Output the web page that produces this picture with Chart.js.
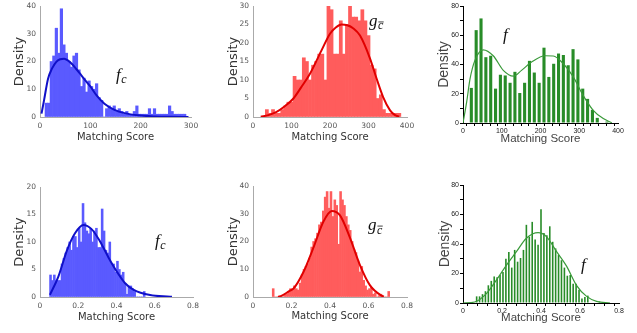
<!DOCTYPE html>
<html>
<head>
<meta charset="utf-8">
<script src="https://cdn.jsdelivr.net/npm/chart.js"></script>
<style>
  html, body { margin: 0; padding: 0; background: #fff; }
  body { position: relative; width: 637px; height: 333px; overflow: hidden; }
  canvas { position: absolute; }
</style>
</head>
<body>
<canvas id="p1" width="210" height="160" style="left:0;top:-8px"></canvas>
<canvas id="p2" width="210" height="160" style="left:210px;top:-8px"></canvas>
<canvas id="p3" width="217" height="160" style="left:420px;top:-8px"></canvas>
<canvas id="p4" width="210" height="168" style="left:0;top:165px"></canvas>
<canvas id="p5" width="210" height="168" style="left:210px;top:165px"></canvas>
<canvas id="p6" width="217" height="168" style="left:420px;top:165px"></canvas>
<script>
// ---- top row: raw matching scores ----
const fcBins = [12.5, 17.5, 22.5, 27.5, 32.5, 37.5, 42.5, 47.5, 52.5, 57.5, 62.5, 67.5, 72.5, 77.5,
  82.5, 87.5, 92.5, 97.5, 102.5, 107.5, 112.5, 117.5, 122.5, 127.5, 132.5, 137.5, 142.5, 147.5,
  152.5, 157.5, 162.5, 167.5, 172.5, 177.5, 182.5, 187.5, 192.5, 197.5, 202.5, 207.5, 212.5, 217.5,
  222.5, 227.5, 232.5, 237.5, 242.5, 247.5, 252.5, 257.5, 262.5, 267.5, 272.5, 277.5, 282.5, 287.5];
const fcDensity = [5, 5, 20, 22, 32, 23, 39, 26, 23, 20, 18, 22, 23, 17,
  11, 14, 9, 13, 11, 10, 12, 7, 6, 0, 3, 4, 3, 4,
  2, 3, 2, 1, 2, 1, 1, 2, 4, 1, 1, 1, 1, 3,
  1, 3, 1, 1, 1, 1, 1, 4, 2, 1, 1, 1, 1, 1];
const fcCurveX = [3, 8, 16, 24, 32, 40, 48, 56, 64, 72, 80, 90, 100, 112, 128, 148, 168, 195, 228, 260, 295];
const fcCurveY = [1.2, 6, 13.8, 17.5, 19.8, 20.8, 21, 20.3, 19, 17.3, 15.5, 13.2, 11, 7.9, 4.8, 2.6, 1.4, 0.6, 0.2, 0.05, 0];

const gcBins = [36, 44, 52, 60, 68, 76, 84, 92, 100, 108, 116, 124, 132, 140, 148, 156, 164, 172,
  180, 188, 196, 204, 212, 220, 228, 236, 244, 252, 260, 268, 276, 284, 292, 300, 308, 316,
  324, 332, 340, 348, 356, 364, 372, 380];
const gcDensity = [2, 1, 2, 1, 1, 2, 3, 4, 4, 11, 10, 10, 16, 15, 10, 14, 15, 17,
  17, 10, 30, 29, 17, 17, 26, 17, 25, 30, 27, 27, 26, 29, 26, 22, 14, 13,
  5, 6, 2, 1, 1, 1, 1, 1];
const gcCurveX = [20, 40, 60, 80, 105, 125, 148, 178, 200, 215, 230, 245, 260, 278, 304, 321, 338, 356, 369, 380];
const gcCurveY = [0.1, 0.5, 1.3, 2.7, 5, 8, 11.7, 18, 22.5, 24.2, 25, 24.8, 24, 22, 15.8, 10.4, 5.4, 1.8, 0.5, 0.1];

const fBins = [21.5, 34, 46.5, 59, 71.5, 84, 96.5, 109, 121.5, 134, 146.5, 159, 171.5, 184, 196.5,
  209, 221.5, 234, 246.5, 259, 271.5, 284, 296.5, 309, 321.5, 334, 346.5, 359, 371.5];
const fDensity = [24, 63.5, 71.5, 45, 46, 23.5, 33, 32.5, 27.5, 35, 20.5, 27.5, 42.5, 34.5, 27.5,
  51.5, 31.5, 40.5, 47.5, 46.5, 39.5, 50.5, 43.5, 23.5, 16.5, 9, 3.5, 0, 1];
const fCurveX = [0, 9.5, 18, 31, 52, 78, 104, 130, 151, 177, 212, 233, 259, 285, 310, 336, 362, 384];
const fCurveY = [0, 14.4, 30, 43, 50, 46, 36, 32, 36, 41.7, 46, 45.8, 40.5, 31.4, 18.9, 8.7, 3, 0.2];

// ---- bottom row: normalised matching scores ----
const fcNormBins = [0.055, 0.065, 0.075, 0.085, 0.095, 0.105, 0.115, 0.125, 0.135, 0.145,
  0.155, 0.165, 0.175, 0.185, 0.195, 0.205, 0.215, 0.225, 0.235, 0.245,
  0.255, 0.265, 0.275, 0.285, 0.295, 0.305, 0.315, 0.325, 0.335, 0.345,
  0.355, 0.365, 0.375, 0.385, 0.395, 0.405, 0.415, 0.425, 0.435, 0.445,
  0.455, 0.465, 0.475, 0.485, 0.495, 0.505, 0.515, 0.525, 0.535, 0.545];
const fcNormDensity = [4, 3, 4, 3, 3, 3, 6, 7, 8, 9,
  10, 8.5, 11, 11, 9, 12.5, 10, 17, 13.5, 12,
  11.5, 12.5, 10, 12, 12.5, 9, 9, 16, 12, 8.5,
  8, 10, 6, 6, 4.5, 6.5, 5, 4, 4.5, 2.5,
  0.5, 2, 2, 1.5, 1, 0, 0, 0, 0, 1];
const fcNormCurveX = [0.052, 0.096, 0.14, 0.183, 0.227, 0.271, 0.314, 0.358, 0.402, 0.445, 0.49, 0.576, 0.664, 0.69];
const fcNormCurveY = [0.4, 3.7, 8.4, 11.6, 13.1, 12.3, 10.1, 7.2, 4.6, 2.5, 1.3, 0.35, 0.08, 0.05];

const gcNormBins = [0.105, 0.115, 0.125, 0.135, 0.145, 0.155, 0.165, 0.175, 0.185, 0.195,
  0.205, 0.215, 0.225, 0.235, 0.245, 0.255, 0.265, 0.275, 0.285, 0.295,
  0.305, 0.315, 0.325, 0.335, 0.345, 0.355, 0.365, 0.375, 0.385, 0.395,
  0.405, 0.415, 0.425, 0.435, 0.445, 0.455, 0.465, 0.475, 0.485, 0.495,
  0.505, 0.515, 0.525, 0.535, 0.545, 0.555, 0.565, 0.575, 0.585, 0.595,
  0.605, 0.615, 0.625, 0.635, 0.645, 0.655, 0.665, 0.675, 0.685, 0.695, 0.705];
const gcNormDensity = [3, 0, 0, 0, 0, 0, 1, 1, 2, 3,
  3, 4, 3, 2.5, 5, 8, 10, 11, 12, 14,
  18, 20, 21, 23, 26, 27, 31, 36, 38, 32,
  38, 29, 35, 33, 19, 38, 35, 33, 29, 26,
  24, 20, 17, 16, 13, 9, 11, 6, 4, 2.5,
  3, 3.5, 1, 1.5, 0, 0.5, 1, 0, 0, 0, 2];
const gcNormCurveX = [0.13, 0.15, 0.19, 0.21, 0.262, 0.314, 0.366, 0.409, 0.452, 0.503, 0.555, 0.607, 0.667, 0.68];
const gcNormCurveY = [0, 0.5, 2.2, 3, 9, 17.8, 27.2, 31, 29.4, 21.5, 11.6, 4.3, 0.5, 0.2];

const fNormBins = [0.07, 0.085, 0.1, 0.115, 0.13, 0.145, 0.16, 0.175, 0.19, 0.205, 0.22,
  0.235, 0.25, 0.265, 0.28, 0.295, 0.31, 0.325, 0.34, 0.355, 0.37, 0.385,
  0.4, 0.415, 0.43, 0.445, 0.46, 0.475, 0.49, 0.505, 0.52, 0.535, 0.55,
  0.565, 0.58, 0.595, 0.61, 0.625, 0.64, 0.655, 0.67, 0.685, 0.7];
const fNormDensity = [4.5, 4.5, 6, 8, 12, 15, 18, 17.5, 19, 21, 30,
  34.5, 24, 36, 28, 30.5, 36, 53, 45, 55, 43, 39.5,
  63.5, 47.5, 46, 52, 41.5, 37, 32.5, 29, 24, 18.5, 19,
  13, 13, 9, 3, 4, 5, 0, 0, 0, 1];
const fNormCurveX = [0, 0.06, 0.12, 0.171, 0.223, 0.274, 0.325, 0.385, 0.428, 0.48, 0.531, 0.582, 0.634, 0.685, 0.754];
const fNormCurveY = [0, 0.7, 6.4, 15.5, 25.7, 34.8, 43.9, 47.7, 45, 34.8, 25, 12, 4.5, 1.1, 0];

const pts = (xs, ys) => xs.map((x, i) => ({ x: x, y: ys[i] }));

// italic math label (f, f_c, g_c-bar) anchored in data coordinates
const mathLabel = {
  id: 'mathLabel',
  afterDatasetsDraw(chart, args, opts) {
    if (!opts || !opts.main) return;
    const ctx = chart.ctx;
    const px = chart.scales.x.getPixelForValue(opts.x);
    const py = chart.scales.y.getPixelForValue(opts.y);
    ctx.save();
    ctx.fillStyle = '#111';
    ctx.strokeStyle = '#111';
    ctx.textBaseline = 'alphabetic';
    ctx.font = 'italic ' + opts.size + 'px "Liberation Serif"';
    const w = ctx.measureText(opts.main).width;
    ctx.fillText(opts.main, px, py);
    if (opts.sub) {
      const ss = Math.round(opts.size * 0.72);
      ctx.font = 'italic ' + ss + 'px "Liberation Serif"';
      const sx = px + w + 0.5, sy = py + opts.size * 0.2;
      ctx.fillText(opts.sub, sx, sy);
      if (opts.bar) {
        const sw = ctx.measureText(opts.sub).width;
        ctx.lineWidth = 0.8;
        ctx.beginPath();
        ctx.moveTo(sx + 0.5, sy - ss * 0.62);
        ctx.lineTo(sx + sw + 0.5, sy - ss * 0.62);
        ctx.stroke();
      }
    }
    ctx.restore();
  }
};

const fmt = v => String(+v.toFixed(2));

function makePanel(id, o) {
  const mma = o.style === 'mma';
  const tickFont = mma ? { family: 'DejaVu Sans', size: 7.5 } : { family: 'Liberation Sans', size: 7 };
  const tickColor = mma ? '#555' : '#222';
  const titleColor = mma ? '#333' : '#444';
  return new Chart(document.getElementById(id), {
    type: 'bar',
    data: {
      datasets: [
        {
          type: 'line',
          data: pts(o.curveX, o.curveY),
          borderColor: o.lineColor,
          borderWidth: o.lineWidth,
          pointRadius: 0,
          tension: 0.4,
          cubicInterpolationMode: 'monotone',
          order: 0
        },
        {
          type: 'bar',
          data: pts(o.bins, o.values),
          backgroundColor: o.barColor,
          borderWidth: 0,
          barPercentage: o.barPct,
          categoryPercentage: 1,
          order: 1
        }
      ]
    },
    options: {
      responsive: false,
      animation: false,
      layout: { padding: o.pad },
      plugins: {
        legend: { display: false },
        tooltip: { enabled: false },
        mathLabel: o.label
      },
      scales: {
        x: {
          type: 'linear',
          min: o.xMin, max: o.xMax,
          offset: false,
          grid: { display: true, drawOnChartArea: false, color: mma ? 'rgba(0,0,0,0)' : '#000', tickLength: mma ? 2 : 3 },
          border: mma ? { color: '#aaa', dash: [1, 2] } : { color: '#000' },
          ticks: {
            stepSize: o.xStep,
            autoSkip: false,
            maxRotation: 0,
            padding: mma ? 3 : 1,
            color: tickColor,
            font: tickFont,
            callback: v => (Math.abs(v / o.xLabelStep - Math.round(v / o.xLabelStep)) < 1e-6 ? fmt(v) : '')
          },
          title: { display: true, text: 'Matching Score', color: titleColor,
            font: mma ? { family: 'DejaVu Sans', size: 10 } : { family: 'Liberation Sans', size: 11.5 } },
          afterFit: s => { s.height = o.xh; }
        },
        y: {
          min: 0, max: o.yMax,
          grid: { display: true, drawOnChartArea: false, color: mma ? 'rgba(0,0,0,0)' : '#000', tickLength: mma ? 2 : 3 },
          border: mma ? { color: '#aaa' } : { color: '#000' },
          ticks: {
            stepSize: o.yStep,
            autoSkip: false,
            padding: mma ? 2 : 1,
            color: tickColor,
            font: tickFont,
            callback: v => (Math.abs(v / o.yLabelStep - Math.round(v / o.yLabelStep)) < 1e-6 ? fmt(v) : '')
          },
          title: { display: true, text: 'Density', color: titleColor,
            font: mma ? { family: 'DejaVu Sans', size: 13 } : { family: 'Liberation Sans', size: 14 } },
          afterFit: s => { s.width = o.yw; }
        }
      }
    },
    plugins: [mathLabel]
  });
}

const blue = { style: 'mma', barColor: '#5a5aff', lineColor: '#1010c8', lineWidth: 2, barPct: 1 };
const red = { style: 'mma', barColor: '#ff5c5c', lineColor: '#e00000', lineWidth: 2, barPct: 1 };
const green = { style: 'plain', barColor: '#288c28', lineColor: '#3a9a3a', lineWidth: 1.2 };

makePanel('p1', Object.assign({}, blue, {
  bins: fcBins, values: fcDensity, curveX: fcCurveX, curveY: fcCurveY,
  xMin: 0, xMax: 300, xStep: 100, xLabelStep: 100, yMax: 40, yStep: 10, yLabelStep: 10,
  pad: { left: 8, right: 19, top: 14, bottom: 5 }, yw: 32, xh: 30,
  label: { main: 'f', sub: 'c', x: 151, y: 13.3, size: 17 }
}));
makePanel('p2', Object.assign({}, red, {
  bins: gcBins, values: gcDensity, curveX: gcCurveX, curveY: gcCurveY,
  xMin: 0, xMax: 400, xStep: 100, xLabelStep: 100, yMax: 30, yStep: 5, yLabelStep: 5,
  pad: { left: 12, right: 13, top: 14, bottom: 5 }, yw: 31, xh: 30,
  label: { main: 'g', sub: 'c', bar: true, x: 301, y: 24.6, size: 17 }
}));
makePanel('p3', Object.assign({}, green, {
  barPct: 0.64,
  bins: fBins, values: fDensity, curveX: fCurveX, curveY: fCurveY,
  xMin: 0, xMax: 400, xStep: 20, xLabelStep: 100, yMax: 80, yStep: 10, yLabelStep: 20,
  pad: { left: 11.6, right: 19, top: 14, bottom: 2.6 }, yw: 31.4, xh: 26.4,
  label: { main: 'f', x: 103, y: 56.8, size: 17 }
}));
makePanel('p4', Object.assign({}, blue, {
  bins: fcNormBins, values: fcNormDensity, curveX: fcNormCurveX, curveY: fcNormCurveY,
  xMin: 0, xMax: 0.8, xStep: 0.2, xLabelStep: 0.2, yMax: 20, yStep: 5, yLabelStep: 5,
  pad: { left: 8, right: 17, top: 22, bottom: 5.7 }, yw: 32, xh: 30.3,
  label: { main: 'f', sub: 'c', x: 0.601, y: 9.3, size: 17 }
}));
makePanel('p5', Object.assign({}, red, {
  bins: gcNormBins, values: gcNormDensity, curveX: gcNormCurveX, curveY: gcNormCurveY,
  xMin: 0, xMax: 0.8, xStep: 0.2, xLabelStep: 0.2, yMax: 40, yStep: 10, yLabelStep: 10,
  pad: { left: 12, right: 13, top: 21, bottom: 6.3 }, yw: 31, xh: 29.7,
  label: { main: 'g', sub: 'c', bar: true, x: 0.597, y: 24.1, size: 17 }
}));
makePanel('p6', Object.assign({}, green, {
  barPct: 0.55,
  bins: fNormBins, values: fNormDensity, curveX: fNormCurveX, curveY: fNormCurveY,
  xMin: 0, xMax: 0.8, xStep: 0.05, xLabelStep: 0.2, yMax: 80, yStep: 10, yLabelStep: 20,
  pad: { left: 12.6, right: 18, top: 20, bottom: 4.4 }, yw: 30.4, xh: 25.6,
  label: { main: 'f', x: 0.605, y: 22.4, size: 17 }
}));
</script>
</body>
</html>
